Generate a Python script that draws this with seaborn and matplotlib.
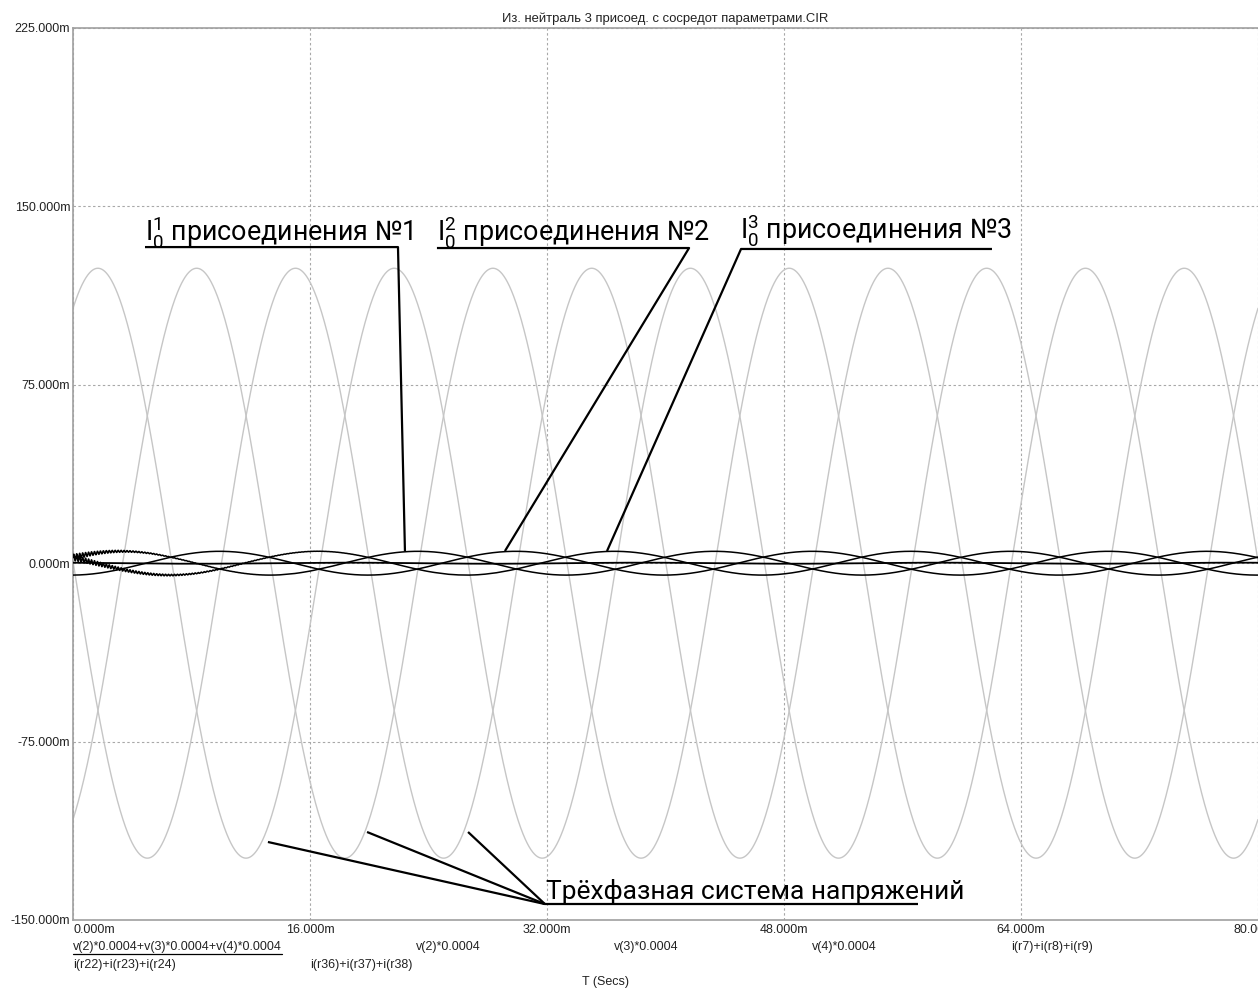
import numpy as np
import pandas as pd
import matplotlib
matplotlib.use('Agg')
import matplotlib.pyplot as plt
import seaborn as sns
from matplotlib.ticker import FuncFormatter

# time axis (ms) and mains frequency
t_end_ms = 80.0
n_samples = 8001
freq_hz = 50.0

# grey traces: phase voltages scaled by 0.0004 (values in "m")
voltage_names = ['v(2)*0.0004', 'v(3)*0.0004', 'v(4)*0.0004']
voltage_amp = [124.0, 124.0, 124.0]
voltage_peak_ms = [1.68, 8.35, 15.02]

# black traces: zero-sequence currents of the three feeders
current_names = ['i(r22)+i(r23)+i(r24)', 'i(r36)+i(r37)+i(r38)', 'i(r7)+i(r8)+i(r9)']
current_amp = [5.0, 5.0, 5.0]
current_peak_ms = [3.3, 9.9, 16.55]
# start-up ripple seen on two of the currents
ripple_amp = [1.2, 0.0, 1.2]
ripple_tau_ms = [3.0, 1.0, 5.0]
ripple_period_ms = 0.2

sum_name = 'v(2)*0.0004+v(3)*0.0004+v(4)*0.0004'

x_ticks = [0, 16, 32, 48, 64, 80]
y_ticks = [-150, -75, 0, 75, 150, 225]

title = 'Из. нейтраль 3 присоед. с сосредот параметрами.CIR'

# build long tables
t = np.linspace(0, t_end_ms, n_samples)
w = 2 * np.pi * freq_hz / 1000.0
volt_frames = []
for name, a, pk in zip(voltage_names, voltage_amp, voltage_peak_ms):
    volt_frames.append(pd.DataFrame({'t': t, 'value': a * np.cos(w * (t - pk)), 'trace': name}))
df_v = pd.concat(volt_frames, ignore_index=True)
df_sum = df_v.groupby('t', as_index=False)['value'].sum()
df_sum['trace'] = sum_name

cur_frames = []
for name, a, pk, ra, tau in zip(current_names, current_amp, current_peak_ms, ripple_amp, ripple_tau_ms):
    val = a * np.cos(w * (t - pk)) + ra * np.exp(-t / tau) * np.sin(2 * np.pi * t / ripple_period_ms)
    cur_frames.append(pd.DataFrame({'t': t, 'value': val, 'trace': name}))
df_i = pd.concat(cur_frames, ignore_index=True)

sns.set_style('white')
plt.rcParams['font.family'] = ['Liberation Sans', 'DejaVu Sans']
plt.rcParams['mathtext.fontset'] = 'custom'
plt.rcParams['mathtext.rm'] = 'Roboto'
plt.rcParams['mathtext.it'] = 'Roboto:italic'

W, H = 1258, 989
fig = plt.figure(figsize=(W / 100, H / 100), dpi=100)
ax = fig.add_axes([73 / W, 69 / H, 1185 / W, 892 / H])

sns.lineplot(data=df_v, x='t', y='value', hue='trace', palette=['#c6c6c6'] * 3,
             estimator=None, legend=False, linewidth=1.0, ax=ax, zorder=2)
sns.lineplot(data=df_sum, x='t', y='value', color='black',
             estimator=None, legend=False, linewidth=1.3, ax=ax, zorder=3)
sns.lineplot(data=df_i, x='t', y='value', hue='trace', palette=['black'] * 3,
             estimator=None, legend=False, linewidth=1.1, ax=ax, zorder=3)

ax.set_xlim(0, t_end_ms)
ax.set_ylim(-150, 225)
ax.set_xticks(x_ticks)
ax.set_yticks(y_ticks)
ax.xaxis.set_major_formatter(FuncFormatter(lambda v, p: f'{v:.3f}m'))
ax.yaxis.set_major_formatter(FuncFormatter(lambda v, p: f'{v:.3f}m'))
ax.tick_params(length=0, labelsize=9, colors='#222222', pad=2)
ax.tick_params(axis='x', pad=3)
ax.get_xticklabels()[0].set_ha('left')
ax.set_xlabel('')
ax.set_ylabel('')
ax.grid(True, linestyle=(0, (2.2, 2.2)), color='#a8a8a8', linewidth=0.8, zorder=1)
for s in ['left', 'top', 'bottom']:
    ax.spines[s].set_color('#a0a0a0')
    ax.spines[s].set_linewidth(1.2)
ax.spines['right'].set_visible(False)

# annotations
ann_font = dict(family=['Roboto', 'DejaVu Sans'], size=19.4, color='black')
ax.text(4.86, 135.8, r'$\mathregular{I_0^1}$ присоединения №1', **ann_font, zorder=5)
ax.text(24.57, 135.8, r'$\mathregular{I_0^2}$ присоединения №2', **ann_font, zorder=5)
ax.text(45.03, 136.5, r'$\mathregular{I_0^3}$ присоединения №3', **ann_font, zorder=5)
lk = dict(color='black', linewidth=1.6, solid_capstyle='butt', zorder=5)
ax.plot([4.86, 21.94, 22.41], [132.9, 132.9, 5.1], **lk)
ax.plot([24.57, 41.59, 29.16], [132.5, 132.5, 5.1], **lk)
ax.plot([62.04, 45.10, 36.05], [132.1, 132.1, 5.1], **lk)

ax.text(31.95, -141.3, 'Трёхфазная система напряжений', **dict(ann_font, size=19.0), zorder=5)
ax.plot([31.86, 57.05], [-143.3, -143.3], **lk)
for xs, ys in [(13.16, -117.2), (19.85, -113.0), (26.67, -113.0)]:
    ax.plot([xs, 31.86], [ys, -143.3], **lk)

# title and trace legend in Micro-Cap style
fig.text(665 / W, 1 - 19 / H, title, ha='center', va='center', fontsize=9.4, color='#222222')
leg_row1 = [(sum_name, 73)] + list(zip(voltage_names, [416, 614, 812])) + [(current_names[2], 1011)]
leg_row2 = list(zip(current_names[:2], [73, 310]))
for name, px in leg_row1:
    txt = fig.text(px / W, 1 - 947 / H, name, ha='left', va='center', fontsize=9, color='#222222')
    if name == sum_name:
        first = txt
for name, px in leg_row2:
    fig.text(px / W, 1 - 965 / H, name, ha='left', va='center', fontsize=9, color='#222222')
fig.text(605 / W, 1 - 982 / H, 'T (Secs)', ha='center', va='center', fontsize=9, color='#222222')

fig.canvas.draw()
bb = first.get_window_extent()
fig.add_artist(plt.Line2D([bb.x0 / W, bb.x1 / W], [(bb.y0 - 1) / H] * 2, color='black', linewidth=0.9))

fig.savefig('out.png', dpi=100)
